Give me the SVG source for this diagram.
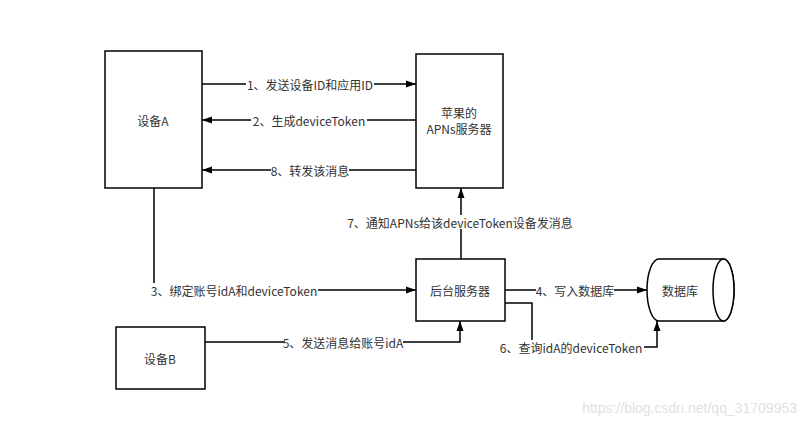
<svg xmlns="http://www.w3.org/2000/svg" width="805" height="427" viewBox="0 0 805 427">
<defs>
<marker id="ah" viewBox="0 0 10 10" refX="10" refY="5" markerWidth="10" markerHeight="10" markerUnits="userSpaceOnUse" orient="auto">
<path d="M0,1.5 L10,5 L0,8.5 Z" fill="#000"/>
</marker>
<style>
.box{fill:#fff;stroke:#000;stroke-width:1.5}
.ln{fill:none;stroke:#000;stroke-width:1.5}
.t{font-family:"Microsoft YaHei","Noto Sans CJK SC",sans-serif;font-size:12px;fill:#333;text-anchor:middle;dominant-baseline:central}
.bg{fill:#fff}
</style>
</defs>
<rect width="805" height="427" fill="#fff"/>
<g id="connectors">
<path class="ln" d="M202,84 H416" marker-end="url(#ah)"/>
<path class="ln" d="M416,120 H202" marker-end="url(#ah)"/>
<path class="ln" d="M416,170 H202" marker-end="url(#ah)"/>
<path class="ln" d="M154,188 V290 H416" marker-end="url(#ah)"/>
<path class="ln" d="M461,259 V188" marker-end="url(#ah)"/>
<path class="ln" d="M505,290 H647" marker-end="url(#ah)"/>
<path class="ln" d="M505,303 H532 V347 H657 V321" marker-end="url(#ah)"/>
<path class="ln" d="M205,342 H460 V321" marker-end="url(#ah)"/>
<rect class="bg" x="246" y="77" width="128" height="14"/>
<text class="t" x="310" y="84">1、发送设备ID和应用ID</text>
<rect class="bg" x="251" y="113" width="116" height="14"/>
<text class="t" x="309" y="120">2、生成deviceToken</text>
<rect class="bg" x="271" y="163" width="78" height="14"/>
<text class="t" x="310" y="170">8、转发该消息</text>
<rect class="bg" x="150" y="283" width="168" height="14"/>
<text class="t" x="234" y="290">3、绑定账号idA和deviceToken</text>
<rect class="bg" x="345" y="215" width="230" height="14"/>
<text class="t" x="460" y="222">7、通知APNs给该deviceToken设备发消息</text>
<rect class="bg" x="536" y="283" width="78" height="14"/>
<text class="t" x="575" y="290">4、写入数据库</text>
<rect class="bg" x="499" y="340" width="145" height="14"/>
<text class="t" x="571" y="347">6、查询idA的deviceToken</text>
<rect class="bg" x="284" y="335" width="119" height="14"/>
<text class="t" x="343" y="342">5、发送消息给账号idA</text>
</g>
<g id="deviceA">
<rect class="box" x="105" y="51" width="97" height="137"/>
<text class="t" x="153" y="120">设备A</text>
</g>
<g id="apns">
<rect class="box" x="416" y="54" width="87" height="134"/>
<text class="t" x="459" y="112">苹果的</text>
<text class="t" x="459" y="128">APNs服务器</text>
</g>
<g id="backend">
<rect class="box" x="416" y="259" width="89" height="62"/>
<text class="t" x="460" y="290">后台服务器</text>
</g>
<g id="database">
<path class="box" d="M659,259 H723.5 A10.5,31 0 0 1 723.5,321 H659 A12,31 0 0 1 659,259 Z"/>
<ellipse class="box" cx="723.5" cy="290" rx="10.5" ry="31"/>
<text class="t" x="680" y="290">数据库</text>
</g>
<g id="deviceB">
<rect class="box" x="116" y="327" width="89" height="62"/>
<text class="t" x="160" y="358">设备B</text>
</g>
<text x="797" y="408" font-family="Arial,'Liberation Sans',sans-serif" font-size="14" fill="#e2e2e2" text-anchor="end" dominant-baseline="central">https://blog.csdn.net/qq_31709953</text>
</svg>
